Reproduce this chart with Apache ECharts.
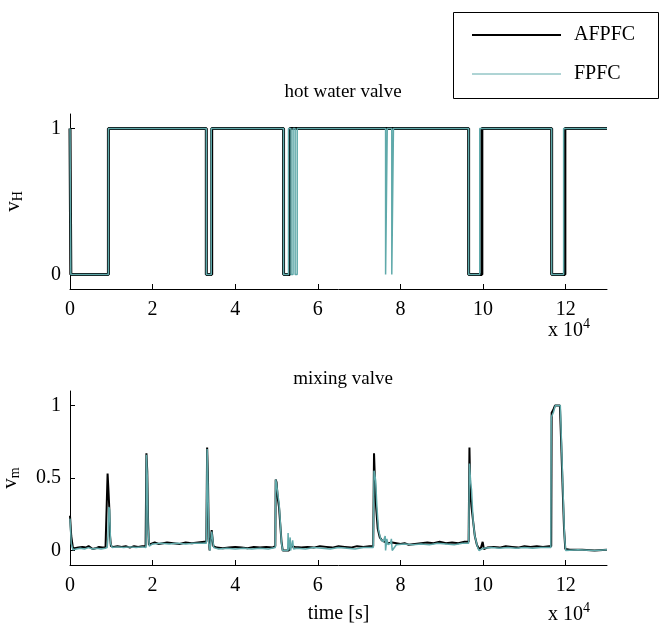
<!DOCTYPE html>
<html>
<head>
<meta charset="utf-8">
<script src="https://cdn.jsdelivr.net/npm/echarts@6/dist/echarts.min.js"></script>
<style>
  html, body { margin: 0; padding: 0; background: #fff; }
  #chart { width: 661px; height: 628px; }
</style>
</head>
<body>
<div id="chart"></div>
<script>
// time axis is in units of 10^4 s
var xTicks = [0, 2, 4, 6, 8, 10, 12];
var hotTicks = [0, 1];
var mixTicks = [0, 0.5, 1];

// hot water valve: switching instants and the value after each switch
var hotTimeA = [0, 0.02, 0.93, 3.30, 3.43, 5.17, 5.32, 9.65, 9.97, 11.66, 11.98, 13];
var hotValA  = [1, 0,    1,    0,    1,    0,    1,    0,    1,    0,     1,     1];
var hotTimeF = [0, 0.02, 0.93, 3.30, 3.42, 5.17, 5.29, 5.35, 5.40, 5.45, 5.50, 7.64, 7.68, 7.79, 7.83, 9.65, 9.92, 11.66, 11.95, 13];
var hotValF  = [1, 0,    1,    0,    1,    0,    1,    0,    1,    0,    1,    0,    1,    0,    1,    0,    1,    0,     1,     1];

// mixing valve, AFPFC
var mixTimeA = [0, 0.03, 0.07, 0.12, 0.20, 0.30, 0.38, 0.45, 0.50, 0.55, 0.62, 0.70, 0.78, 0.86, 0.90,
  0.91, 0.93, 0.95, 0.97, 0.99, 1.05, 1.15, 1.25, 1.35, 1.45, 1.55, 1.65, 1.75, 1.83,
  1.85, 1.87, 1.89, 1.91, 1.95, 2.05, 2.15, 2.25, 2.35, 2.50, 2.65, 2.80, 2.95, 3.10, 3.25, 3.30,
  3.32, 3.34, 3.36, 3.38, 3.41, 3.43, 3.45, 3.47, 3.55, 3.70, 3.85, 4.00, 4.15, 4.30, 4.45, 4.60, 4.75, 4.90, 4.97,
  4.98, 5.00, 5.03, 5.06, 5.09, 5.12, 5.15, 5.30, 5.33, 5.45, 5.60, 5.75, 5.90, 6.05, 6.20, 6.35, 6.50, 6.65, 6.80, 6.95, 7.10, 7.25, 7.34,
  7.36, 7.38, 7.41, 7.45, 7.50, 7.55, 7.62, 7.70, 7.80, 7.90, 8.00, 8.10, 8.20, 8.35, 8.50, 8.65, 8.80, 8.95, 9.10, 9.25, 9.40, 9.55, 9.65,
  9.67, 9.69, 9.72, 9.76, 9.80, 9.85, 9.90, 9.95, 9.99, 10.02, 10.10, 10.25, 10.40, 10.55, 10.70, 10.85, 11.00, 11.15, 11.30, 11.45, 11.60, 11.65,
  11.66, 11.70, 11.74, 11.80, 11.86, 11.89, 11.93, 11.96, 11.99, 12.10, 12.40, 12.70, 13.00];
var mixValA = [0.24, 0.10, 0.02, 0.015, 0.02, 0.025, 0.02, 0.03, 0.02, 0.01, 0.015, 0.025, 0.02, 0.02, 0.03,
  0.53, 0.42, 0.30, 0.10, 0.03, 0.025, 0.03, 0.025, 0.03, 0.02, 0.03, 0.025, 0.03, 0.03,
  0.67, 0.55, 0.20, 0.04, 0.05, 0.055, 0.045, 0.05, 0.055, 0.05, 0.045, 0.055, 0.05, 0.055, 0.06, 0.06,
  0.71, 0.50, 0.08, 0.00, 0.00, 0.14, 0.13, 0.03, 0.02, 0.015, 0.02, 0.025, 0.02, 0.015, 0.025, 0.02, 0.025, 0.02, 0.03,
  0.49, 0.47, 0.36, 0.30, 0.18, 0.06, 0.00, 0.00, 0.03, 0.025, 0.02, 0.025, 0.02, 0.03, 0.025, 0.02, 0.03, 0.025, 0.02, 0.03, 0.025, 0.03, 0.03,
  0.67, 0.50, 0.30, 0.15, 0.09, 0.07, 0.06, 0.05, 0.055, 0.05, 0.045, 0.05, 0.04, 0.045, 0.05, 0.055, 0.05, 0.06, 0.05, 0.055, 0.05, 0.06, 0.06,
  0.71, 0.40, 0.30, 0.20, 0.10, 0.04, 0.01, 0.02, 0.06, 0.01, 0.02, 0.025, 0.02, 0.03, 0.025, 0.02, 0.03, 0.025, 0.03, 0.025, 0.03, 0.03,
  0.95, 0.97, 1.00, 1.00, 1.00, 0.75, 0.40, 0.15, 0.01, 0.005, 0.005, 0.00, 0.005];

// mixing valve, FPFC
var mixTimeF = [0, 0.03, 0.07, 0.15, 0.25, 0.35, 0.45, 0.55, 0.65, 0.75, 0.85, 0.90,
  0.92, 0.94, 0.96, 0.98, 1.02, 1.15, 1.30, 1.45, 1.60, 1.75, 1.84,
  1.85, 1.87, 1.89, 1.92, 2.00, 2.20, 2.40, 2.60, 2.80, 3.00, 3.20, 3.30,
  3.32, 3.34, 3.36, 3.39, 3.42, 3.43, 3.45, 3.48, 3.60, 3.80, 4.00, 4.20, 4.40, 4.60, 4.80, 4.97,
  4.98, 5.00, 5.04, 5.06, 5.08, 5.12, 5.15, 5.27, 5.28, 5.29, 5.33, 5.34, 5.39, 5.41, 5.50, 5.70, 5.90, 6.10, 6.30, 6.50, 6.70, 6.90, 7.10, 7.34,
  7.36, 7.38, 7.40, 7.43, 7.47, 7.52, 7.58, 7.62, 7.63, 7.64, 7.67, 7.70, 7.76, 7.78, 7.80, 7.90, 8.10, 8.30, 8.50, 8.70, 8.90, 9.10, 9.30, 9.50, 9.65,
  9.67, 9.70, 9.72, 9.76, 9.80, 9.86, 9.90, 10.00, 10.20, 10.40, 10.60, 10.80, 11.00, 11.20, 11.40, 11.64,
  11.65, 11.70, 11.75, 11.87, 11.92, 11.97, 12.00, 12.30, 12.70, 13.00];
var mixValF = [0.22, 0.05, 0.005, 0.01, 0.015, 0.01, 0.02, 0.01, 0.015, 0.01, 0.015, 0.02,
  0.10, 0.30, 0.28, 0.05, 0.02, 0.025, 0.02, 0.025, 0.02, 0.025, 0.02,
  0.66, 0.52, 0.15, 0.03, 0.045, 0.05, 0.045, 0.05, 0.045, 0.05, 0.05, 0.05,
  0.70, 0.45, 0.05, 0.00, 0.00, 0.13, 0.12, 0.02, 0.01, 0.015, 0.01, 0.015, 0.01, 0.015, 0.01, 0.02,
  0.49, 0.46, 0.37, 0.33, 0.25, 0.05, 0.00, 0.00, 0.12, 0.00, 0.09, 0.00, 0.07, 0.01, 0.015, 0.01, 0.02, 0.015, 0.01, 0.02, 0.015, 0.01, 0.02, 0.02,
  0.55, 0.52, 0.48, 0.30, 0.14, 0.08, 0.06, 0.05, 0.10, 0.00, 0.08, 0.04, 0.05, 0.08, 0.00, 0.04, 0.045, 0.04, 0.045, 0.04, 0.05, 0.045, 0.04, 0.05, 0.05,
  0.60, 0.47, 0.42, 0.20, 0.10, 0.03, 0.00, 0.015, 0.02, 0.015, 0.02, 0.015, 0.02, 0.015, 0.02, 0.02,
  0.92, 0.95, 1.00, 1.00, 0.55, 0.10, 0.00, 0.005, 0.00, 0.005];

function pairs(t, v) {
  return t.map(function (x, i) { return [x, v[i]]; });
}

var black = '#000000';
var teal = '#5fa9aa';
var serif = 'Liberation Serif';

function xAxisFor(gridIndex, name) {
  return {
    type: 'value', gridIndex: gridIndex, min: 0, max: 13,
    name: name || '', nameLocation: 'middle', nameGap: 39,
    nameTextStyle: { fontFamily: serif, fontSize: 20, color: '#000' },
    axisLine: { onZero: false, lineStyle: { color: '#000', width: 1 } },
    axisTick: { inside: true, length: 5, customValues: xTicks, lineStyle: { color: '#000' } },
    axisLabel: { customValues: xTicks, margin: 11, fontFamily: serif, fontSize: 20, color: '#000' },
    splitLine: { show: false }
  };
}

function yAxisFor(gridIndex, ticks, sub, gap) {
  return {
    type: 'value', gridIndex: gridIndex, min: -0.1, max: 1.1,
    name: '{a|v}{b|' + sub + '}', nameLocation: 'middle', nameRotate: 90, nameGap: gap,
    nameTextStyle: {
      rich: {
        a: { fontFamily: serif, fontSize: 21, color: '#000' },
        b: { fontFamily: serif, fontSize: 14, color: '#000', padding: [9, 0, 0, 0] }
      }
    },
    axisLine: { onZero: false, lineStyle: { color: '#000', width: 1 } },
    axisTick: { inside: true, length: 5, customValues: ticks, lineStyle: { color: '#000' } },
    axisLabel: { customValues: ticks, margin: 9, fontFamily: serif, fontSize: 20, color: '#000' },
    splitLine: { show: false }
  };
}

var myChart = echarts.init(document.getElementById('chart'));

var option = {
  backgroundColor: '#fff',
  animation: false,
  title: [
    { text: 'hot water valve', left: 338, top: 78, textAlign: 'center',
      textStyle: { fontFamily: serif, fontSize: 19, fontWeight: 'normal', color: '#000' } },
    { text: 'mixing valve', left: 338, top: 365, textAlign: 'center',
      textStyle: { fontFamily: serif, fontSize: 19, fontWeight: 'normal', color: '#000' } }
  ],
  legend: {
    orient: 'vertical', left: 466, top: 20, itemWidth: 89, itemHeight: 14, itemGap: 19,
    textStyle: { fontFamily: serif, fontSize: 20, color: '#000', padding: [0, 0, 0, 8] },
    data: [
      { name: 'AFPFC', itemStyle: { opacity: 0 }, lineStyle: { width: 2 } },
      { name: 'FPFC', itemStyle: { opacity: 0 }, lineStyle: { width: 1 } }
    ]
  },
  graphic: [
    { type: 'rect', shape: { x: 453.5, y: 12.5, width: 205, height: 86 },
      style: { fill: null, stroke: '#000', lineWidth: 1 }, z: 100 },
    { type: 'text', left: 548, top: 317,
      style: { text: '{a|x 10}{b|4}', rich: {
        a: { fontFamily: serif, fontSize: 20, fill: '#000', padding: [6, 0, 0, 0] },
        b: { fontFamily: serif, fontSize: 14, fill: '#000', padding: [0, 0, 8, 0] } } } },
    { type: 'text', left: 548, top: 601,
      style: { text: '{a|x 10}{b|4}', rich: {
        a: { fontFamily: serif, fontSize: 20, fill: '#000', padding: [6, 0, 0, 0] },
        b: { fontFamily: serif, fontSize: 14, fill: '#000', padding: [0, 0, 8, 0] } } } }
  ],
  grid: [
    { left: 70, right: 54, top: 114, height: 175, outerBoundsMode: 'none' },
    { left: 70, right: 54, top: 391, height: 174, outerBoundsMode: 'none' }
  ],
  xAxis: [xAxisFor(0), xAxisFor(1, 'time [s]')],
  yAxis: [yAxisFor(0, hotTicks, 'H', 45), yAxisFor(1, mixTicks, 'm', 48)],
  series: [
    { name: 'AFPFC', type: 'line', xAxisIndex: 0, yAxisIndex: 0, step: 'end', symbol: 'none',
      lineStyle: { color: black, width: 3 }, itemStyle: { color: black },
      data: pairs(hotTimeA, hotValA) },
    { name: 'FPFC', type: 'line', xAxisIndex: 0, yAxisIndex: 0, step: 'end', symbol: 'none',
      lineStyle: { color: teal, width: 1.5 }, itemStyle: { color: teal },
      data: pairs(hotTimeF, hotValF) },
    { name: 'AFPFC', type: 'line', xAxisIndex: 1, yAxisIndex: 1, symbol: 'none',
      lineStyle: { color: black, width: 2 }, itemStyle: { color: black },
      data: pairs(mixTimeA, mixValA) },
    { name: 'FPFC', type: 'line', xAxisIndex: 1, yAxisIndex: 1, symbol: 'none',
      lineStyle: { color: teal, width: 1.5 }, itemStyle: { color: teal },
      data: pairs(mixTimeF, mixValF) }
  ]
};

myChart.setOption(option);
window.addEventListener('resize', function () {
  myChart.resize();
});
</script>
</body>
</html>
